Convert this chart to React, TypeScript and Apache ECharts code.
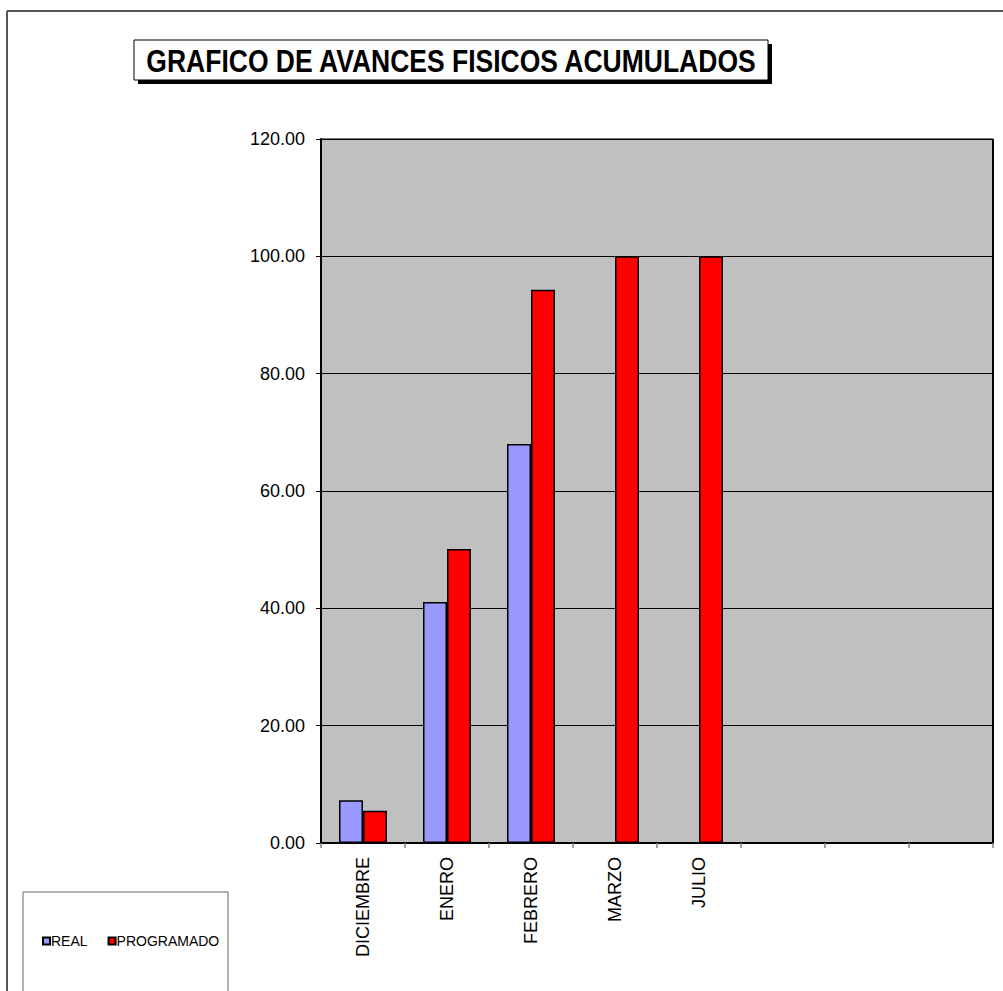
import React, { useEffect, useRef } from "react";
import * as echarts from "echarts";

const categories = ["DICIEMBRE", "ENERO", "FEBRERO", "MARZO", "JULIO", "", "", ""];
const realValues = [7.3, 41.1, 68.0, null, null, null, null, null];
const programadoValues = [5.5, 50.1, 94.3, 100, 100, null, null, null];
const titleText = "GRAFICO DE AVANCES FISICOS ACUMULADOS";
const FONT = "Arial, 'Liberation Sans', sans-serif";

export default function App() {
  const ref = useRef<HTMLDivElement>(null);
  useEffect(() => {
    const chart = echarts.init(ref.current!, null, { renderer: "svg" });
    chart.setOption({
      animation: false,
      backgroundColor: "#fff",
      textStyle: { fontFamily: FONT },
      grid: {
        left: 321,
        top: 139,
        right: 10,
        bottom: 148,
        show: true,
        backgroundColor: "#C0C0C0",
        borderColor: "#000",
        borderWidth: 1,
      },
      legend: {
        left: 37,
        top: 929,
        itemWidth: 7,
        itemHeight: 7,
        itemGap: 20,
        icon: "rect",
        textStyle: { fontFamily: FONT, fontSize: 14, color: "#000", padding: [0, 0, 0, -4] },
        data: ["REAL", "PROGRAMADO"],
      },
      xAxis: {
        type: "category",
        data: categories,
        axisLine: { lineStyle: { color: "#000", width: 2 } },
        axisTick: { show: true, length: 5, lineStyle: { color: "#808080", width: 1.5 } },
        axisLabel: {
          rotate: 90,
          margin: 14,
          fontFamily: FONT,
          fontSize: 18,
          color: "#000",
          interval: 0,
        },
      },
      yAxis: {
        type: "value",
        min: 0,
        max: 120,
        interval: 20,
        axisLine: { show: true, lineStyle: { color: "#000", width: 2 } },
        axisTick: { show: true, length: 5, lineStyle: { color: "#000", width: 1 } },
        axisLabel: {
          margin: 16,
          fontFamily: FONT,
          fontSize: 18,
          color: "#000",
          formatter: (v: number) => v.toFixed(2),
        },
        splitLine: { show: true, lineStyle: { color: "#000", width: 1 } },
      },
      series: [
        {
          name: "REAL",
          type: "bar",
          data: realValues,
          barWidth: 24,
          barGap: "0%",
          itemStyle: { color: "#9999FF", borderColor: "#000", borderWidth: 1.5 },
        },
        {
          name: "PROGRAMADO",
          type: "bar",
          data: programadoValues,
          barWidth: 24,
          barGap: "0%",
          itemStyle: { color: "#FF0000", borderColor: "#000", borderWidth: 1.5 },
        },
      ],
      graphic: [
        {
          type: "line",
          shape: { x1: 7, y1: 11, x2: 7, y2: 991 },
          style: { stroke: "#555", lineWidth: 2 },
        },
        {
          type: "line",
          shape: { x1: 7, y1: 11, x2: 1003, y2: 11 },
          style: { stroke: "#555", lineWidth: 2 },
        },
        {
          type: "line",
          shape: { x1: 993, y1: 139, x2: 993, y2: 843 },
          style: { stroke: "#000", lineWidth: 2 },
          z: 10,
        },
        {
          type: "rect",
          shape: { x: 23, y: 892, width: 205, height: 110 },
          style: { fill: "none", stroke: "#666", lineWidth: 1 },
          z: -1,
        },
        {
          type: "rect",
          shape: { x: 138, y: 44, width: 634, height: 40 },
          style: { fill: "#000" },
        },
        {
          type: "rect",
          shape: { x: 134, y: 40, width: 634, height: 40 },
          style: { fill: "#fff", stroke: "#000", lineWidth: 1 },
        },
        {
          type: "text",
          x: 451,
          y: 61,
          scaleY: 1.15,
          style: {
            text: titleText,
            fontFamily: FONT,
            fontWeight: "bold",
            fontSize: 26.5,
            fill: "#000",
            align: "center",
            verticalAlign: "middle",
          },
        },
      ],
    });
    return () => chart.dispose();
  }, []);
  return (
    <div
      ref={ref}
      style={{ position: "absolute", left: 0, top: 0, width: 1003, height: 991 }}
    />
  );
}
